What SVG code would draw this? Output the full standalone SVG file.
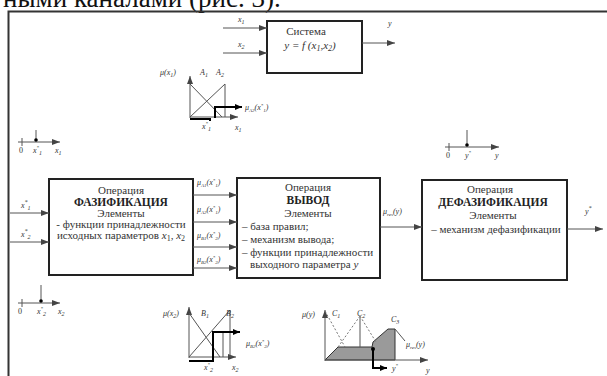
<svg xmlns="http://www.w3.org/2000/svg" width="607" height="376" viewBox="0 0 607 376" font-family="'Liberation Serif', 'Times New Roman', 'DejaVu Serif', serif">
<defs>
<marker id="ar" markerWidth="8" markerHeight="6" refX="8" refY="3" orient="auto" markerUnits="userSpaceOnUse"><path d="M0,0 L8,3 L0,6 Z" fill="#444"/></marker>
<marker id="arb" markerWidth="7" markerHeight="6" refX="7" refY="3" orient="auto" markerUnits="userSpaceOnUse"><path d="M0,0 L7,3 L0,6 Z" fill="#000"/></marker>
<style>
text{font-family:'Liberation Serif','Times New Roman','DejaVu Serif',serif;fill:#333}
.t{font-size:11px}
.s{font-size:8px}
.b{font-size:11.5px;font-weight:bold;fill:#222}
.c{text-anchor:middle}
.i{font-style:italic}
.box{fill:#fff;stroke:#222;stroke-width:2}
.ln{stroke:#555;stroke-width:1;fill:none}
.th{stroke:#000;stroke-width:2;fill:none}
.dl{stroke:#777;stroke-width:1;stroke-dasharray:2 2;fill:none}
</style>
</defs>
<rect width="607" height="376" fill="#fff"/>
<text x="3" y="7" style="font-size:27px;fill:#111">ными каналами (рис. 3).</text>
<path d="M8.5,380 V11.5 H610" fill="none" stroke="#333" stroke-width="2"/>

<g id="system">
<rect class="box" x="267" y="21" width="95" height="52"/>
<text class="t c" x="306" y="35">Система</text>
<text class="t c i" x="310" y="49">y = f (x<tspan class="s" dy="2">1</tspan><tspan dy="-2">,x</tspan><tspan class="s" dy="2">2</tspan><tspan dy="-2">)</tspan></text>
<text class="s i" x="238" y="22">x<tspan font-size="6" dy="2">1</tspan></text>
<text class="s i" x="238" y="47">x<tspan font-size="6" dy="2">2</tspan></text>
<text class="s i" x="388" y="26">y</text>
</g>

<g id="fuzzification">
<rect class="box" x="49" y="179" width="144" height="96"/>
<text class="t c" x="121" y="194">Операция</text>
<text class="b c" x="121" y="206">ФАЗИФИКАЦИЯ</text>
<text class="t c" x="121" y="217">Элементы</text>
<text class="t c" x="121" y="228">- функции принадлежности</text>
<text class="t c" x="121" y="239">исходных параметров <tspan class="i">x</tspan><tspan class="s" dy="2">1</tspan><tspan dy="-2">, </tspan><tspan class="i">x</tspan><tspan class="s" dy="2">2</tspan></text>
<text class="s i" x="21" y="208">x<tspan font-size="6" dy="-4">*</tspan><tspan font-size="6" dy="6">1</tspan></text>
<text class="s i" x="21" y="237">x<tspan font-size="6" dy="-4">*</tspan><tspan font-size="6" dy="6">2</tspan></text>
</g>

<g id="inference">
<rect class="box" x="237" y="178" width="143" height="100"/>
<text class="t c" x="308" y="191">Операция</text>
<text class="b c" x="308" y="204">ВЫВОД</text>
<text class="t c" x="308" y="217">Элементы</text>
<text class="t" x="242" y="230">– база правил;</text>
<text class="t" x="242" y="243">– механизм вывода;</text>
<text class="t" x="242" y="256">– функции принадлежности</text>
<text class="t" x="250" y="268">выходного параметра <tspan class="i">y</tspan></text>
<text class="s i" x="197" y="185">μ<tspan font-size="5" dy="2">A1</tspan><tspan dy="-2">(x</tspan><tspan font-size="5" dy="-3">*</tspan><tspan font-size="5" dy="5">1</tspan><tspan dy="-2">)</tspan></text>
<text class="s i" x="197" y="212">μ<tspan font-size="5" dy="2">A2</tspan><tspan dy="-2">(x</tspan><tspan font-size="5" dy="-3">*</tspan><tspan font-size="5" dy="5">1</tspan><tspan dy="-2">)</tspan></text>
<text class="s i" x="197" y="238">μ<tspan font-size="5" dy="2">B1</tspan><tspan dy="-2">(x</tspan><tspan font-size="5" dy="-3">*</tspan><tspan font-size="5" dy="5">2</tspan><tspan dy="-2">)</tspan></text>
<text class="s i" x="197" y="262">μ<tspan font-size="5" dy="2">B2</tspan><tspan dy="-2">(x</tspan><tspan font-size="5" dy="-3">*</tspan><tspan font-size="5" dy="5">2</tspan><tspan dy="-2">)</tspan></text>
</g>

<g id="defuzzification">
<rect class="box" x="422" y="180" width="145" height="100"/>
<text class="t c" x="490" y="193">Операция</text>
<text class="b c" x="493" y="206">ДЕФАЗИФИКАЦИЯ</text>
<text class="t c" x="493" y="219">Элементы</text>
<text class="t c" x="496" y="233">– механизм дефазификации</text>
<text class="s i" x="383" y="214">μ<tspan font-size="5" dy="2">res</tspan><tspan dy="-2">(y)</tspan></text>
<text class="s i" x="585" y="214">y<tspan font-size="6" dy="-4">*</tspan></text>
</g>

<g id="connectors">
<line class="ln" x1="223" y1="28" x2="267" y2="28" marker-end="url(#ar)"/>
<line class="ln" x1="223" y1="53" x2="267" y2="53" marker-end="url(#ar)"/>
<line class="ln" x1="362" y1="43" x2="395" y2="43" marker-end="url(#ar)"/>
<line class="ln" x1="10" y1="213" x2="49" y2="213" marker-end="url(#ar)"/>
<line class="ln" x1="10" y1="242" x2="49" y2="242" marker-end="url(#ar)"/>
<line class="ln" x1="193" y1="195" x2="237" y2="195" marker-end="url(#ar)"/>
<line class="ln" x1="193" y1="222" x2="237" y2="222" marker-end="url(#ar)"/>
<line class="ln" x1="193" y1="247" x2="237" y2="247" marker-end="url(#ar)"/>
<line class="ln" x1="193" y1="268" x2="237" y2="268" marker-end="url(#ar)"/>
<line class="ln" x1="380" y1="227" x2="422" y2="227" marker-end="url(#ar)"/>
<line class="ln" x1="567" y1="229" x2="603" y2="229" marker-end="url(#ar)"/>
</g>

<g id="axis-x1">
<line class="ln" x1="18" y1="142" x2="60" y2="142" marker-end="url(#ar)"/>
<line class="ln" x1="22" y1="138" x2="22" y2="146"/>
<line class="ln" x1="36" y1="130" x2="36" y2="140"/>
<circle cx="36" cy="140" r="1.8" fill="#000"/>
<text class="s" x="19" y="153">0</text>
<text class="s i" x="33" y="153">x<tspan font-size="5" dy="-4">*</tspan><tspan font-size="6" dy="6">1</tspan></text>
<text class="s i" x="55" y="153">x<tspan font-size="6" dy="2">1</tspan></text>
</g>

<g id="axis-x2">
<line class="ln" x1="18" y1="303" x2="60" y2="303" marker-end="url(#ar)"/>
<line class="ln" x1="22" y1="299" x2="22" y2="307"/>
<line class="ln" x1="41" y1="285" x2="41" y2="301"/>
<circle cx="41" cy="301" r="1.8" fill="#000"/>
<text class="s" x="18" y="314">0</text>
<text class="s i" x="37" y="314">x<tspan font-size="5" dy="-4">*</tspan><tspan font-size="6" dy="6">2</tspan></text>
<text class="s i" x="58" y="314">x<tspan font-size="6" dy="2">2</tspan></text>
</g>

<g id="axis-y">
<line class="ln" x1="445" y1="147" x2="499" y2="147" marker-end="url(#ar)"/>
<line class="ln" x1="449" y1="143" x2="449" y2="151"/>
<line class="ln" x1="467" y1="130" x2="467" y2="145"/>
<circle cx="467" cy="145" r="1.8" fill="#000"/>
<text class="s" x="446" y="158">0</text>
<text class="s i" x="465" y="158">y<tspan font-size="5" dy="-4">*</tspan></text>
<text class="s i" x="495" y="158">y</text>
</g>

<g id="plot-x1">
<line class="ln" x1="190" y1="118" x2="190" y2="76" marker-end="url(#ar)"/>
<line class="ln" x1="190" y1="117" x2="238" y2="117" marker-end="url(#ar)"/>
<line class="ln" x1="190" y1="84" x2="222" y2="117"/>
<line class="ln" x1="190" y1="117" x2="225" y2="84"/>
<line class="ln" x1="225" y1="84" x2="225" y2="117"/>
<path class="th" d="M190,119 H210 V121"/>
<path class="th" d="M215,118 V107 H242" marker-end="url(#arb)"/>
<text class="s i" x="160" y="75">μ(x<tspan font-size="6" dy="2">1</tspan><tspan dy="-2">)</tspan></text>
<text class="s i" x="200" y="75">A<tspan font-size="6" dy="2">1</tspan></text>
<text class="s i" x="216" y="75">A<tspan font-size="6" dy="2">2</tspan></text>
<text class="s i" x="245" y="110">μ<tspan font-size="5" dy="2">A2</tspan><tspan dy="-2">(x</tspan><tspan font-size="5" dy="-3">*</tspan><tspan font-size="5" dy="5">1</tspan><tspan dy="-2">)</tspan></text>
<text class="s i" x="202" y="129">x<tspan font-size="5" dy="-4">*</tspan><tspan font-size="6" dy="6">1</tspan></text>
<text class="s i" x="235" y="130">x<tspan font-size="6" dy="2">1</tspan></text>
</g>

<g id="plot-x2">
<line class="ln" x1="189" y1="358" x2="189" y2="307" marker-end="url(#ar)"/>
<line class="ln" x1="189" y1="357" x2="236" y2="357" marker-end="url(#ar)"/>
<line class="ln" x1="189" y1="313" x2="220" y2="357"/>
<line class="ln" x1="189" y1="357" x2="230" y2="310"/>
<line class="ln" x1="230" y1="310" x2="230" y2="357"/>
<line class="ln" x1="223" y1="332" x2="223" y2="357"/>
<path class="th" d="M189,361 H212"/>
<path class="th" d="M213,362 V332 H240" marker-end="url(#arb)"/>
<text class="s i" x="163" y="316">μ(x<tspan font-size="6" dy="2">2</tspan><tspan dy="-2">)</tspan></text>
<text class="s i" x="201" y="316">B<tspan font-size="6" dy="2">1</tspan></text>
<text class="s i" x="226" y="316">B<tspan font-size="6" dy="2">2</tspan></text>
<text class="s i" x="246" y="346">μ<tspan font-size="5" dy="2">B2</tspan><tspan dy="-2">(x</tspan><tspan font-size="5" dy="-3">*</tspan><tspan font-size="5" dy="5">2</tspan><tspan dy="-2">)</tspan></text>
<text class="s i" x="204" y="370">x<tspan font-size="5" dy="-4">*</tspan><tspan font-size="6" dy="6">2</tspan></text>
<text class="s i" x="232" y="370">x<tspan font-size="6" dy="2">2</tspan></text>
</g>

<g id="plot-y">
<polygon points="325,360 338,347 372,347 373,342 388,329 395,329 395,360" fill="#9a9a9a" stroke="#333" stroke-width="1"/>
<line class="ln" x1="325" y1="361" x2="325" y2="310" marker-end="url(#ar)"/>
<line class="ln" x1="325" y1="360" x2="428" y2="360" marker-end="url(#ar)"/>
<line class="dl" x1="325" y1="311" x2="345" y2="347"/>
<line class="dl" x1="338" y1="347" x2="360" y2="316"/>
<line class="dl" x1="360" y1="316" x2="376" y2="342"/>
<line class="ln" x1="360" y1="317" x2="360" y2="347" stroke="#999"/>
<line class="ln" x1="395" y1="329" x2="405" y2="341"/>
<circle cx="373" cy="349" r="2" fill="#000"/>
<path class="th" d="M373,349 V368 H387" marker-end="url(#arb)"/>
<text class="s i" x="302" y="317">μ(y)</text>
<text class="s i" x="332" y="316">C<tspan font-size="6" dy="2">1</tspan></text>
<text class="s i" x="357" y="316">C<tspan font-size="6" dy="2">2</tspan></text>
<text class="s i" x="391" y="322">C<tspan font-size="6" dy="2">3</tspan></text>
<text class="s i" x="406" y="347">μ<tspan font-size="5" dy="2">res</tspan><tspan dy="-2">(y)</tspan></text>
<text class="s i" x="392" y="371">y<tspan font-size="5" dy="-4">*</tspan></text>
<text class="s i" x="426" y="373">y</text>
</g>
</svg>
